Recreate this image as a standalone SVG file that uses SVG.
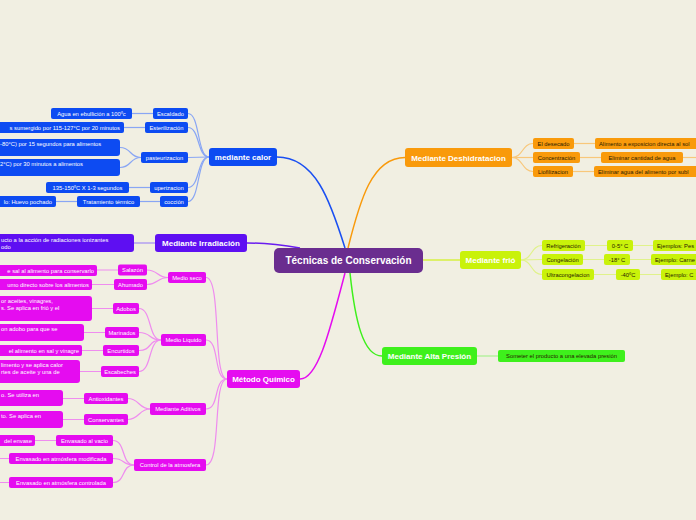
<svg xmlns="http://www.w3.org/2000/svg" width="696" height="520" viewBox="0 0 696 520">
<style>
text{font-family:"Liberation Sans",Arial,sans-serif;}
.s{font-size:5.8px;fill:#fff;text-anchor:middle;}
.sl{font-size:5.8px;fill:#fff;}
.se{font-size:5.8px;fill:#fff;text-anchor:end;}
.d{fill:#2a2000;}
.m{font-size:8px;font-weight:bold;text-anchor:middle;fill:#fff;}
.bl{fill:#0d4bf2;}
.ir{fill:#5e0ff2;}
.or{fill:#f99a0b;}
.ye{fill:#c9f20a;}
.gr{fill:#3ef01c;}
.mg{fill:#e50cf0;}
.cb{fill:none;stroke:#89a6f4;stroke-width:1.2;}
.co{fill:none;stroke:#f8c77a;stroke-width:1.2;}
.cy{fill:none;stroke:#e0f28a;stroke-width:1.2;}
.cg{fill:none;stroke:#a8f090;stroke-width:1.2;}
.cm{fill:none;stroke:#ef8cef;stroke-width:1.2;}
.ci{fill:none;stroke:#a38af5;stroke-width:1.2;}
</style>
<rect width="696" height="520" fill="#f1efe2"/>
<g id="connectors">
<path d="M277,157 C315,157 330,200 345,248" fill="none" stroke="#1a4ff2" stroke-width="1.5"/>
<path d="M348,248 C360,200 372,157.5 405,157.5" fill="none" stroke="#f99a0b" stroke-width="1.5"/>
<path d="M247,243 C270,243 288,246 300,248" fill="none" stroke="#6a1cf0" stroke-width="1.5"/>
<path d="M423,260 L460,260" fill="none" stroke="#d6f040" stroke-width="1.5"/>
<path d="M350,273 C355,320 363,356 382,356" fill="none" stroke="#3ef01c" stroke-width="1.5"/>
<path d="M345,273 C330,330 318,379 300,379" fill="none" stroke="#e50cf0" stroke-width="1.5"/>
<path class="cb" d="M188,113.5 C200,113.5 197,157 209,157"/>
<path class="cb" d="M188,127.5 C200,127.5 197,157 209,157"/>
<path class="cb" d="M188,157.5 L209,157"/>
<path class="cb" d="M188,187.5 C200,187.5 197,157 209,157"/>
<path class="cb" d="M188,201.5 C200,201.5 197,157 209,157"/>
<path class="cb" d="M132,113.5 L153,113.5"/>
<path class="cb" d="M124,127.5 L145,127.5"/>
<path class="cb" d="M120,147.5 C132,147.5 129,157.5 141,157.5"/>
<path class="cb" d="M120,167.5 C132,167.5 129,157.5 141,157.5"/>
<path class="cb" d="M129,187.5 L150,187.5"/>
<path class="cb" d="M56,201.5 L77,201.5"/>
<path class="cb" d="M140,201.5 L160,201.5"/>
<path class="ci" d="M134,243 L155,243"/>
<path class="co" d="M512,157.5 C523,157.5 522,143.5 533,143.5"/>
<path class="co" d="M512,157.5 L533,157.5"/>
<path class="co" d="M512,157.5 C523,157.5 522,171.5 533,171.5"/>
<path class="co" d="M574,143.5 L595,143.5"/>
<path class="co" d="M580,157.5 L601,157.5"/>
<path class="co" d="M683,157.5 L696,157.5"/>
<path class="co" d="M573,171.5 L594,171.5"/>
<path class="cy" d="M521,260 C532,260 531,245.5 542,245.5"/>
<path class="cy" d="M521,260 L542,259.5"/>
<path class="cy" d="M521,260 C532,260 531,274.5 542,274.5"/>
<path class="cy" d="M585,245.5 L607,245.5 M633,245.5 L653,245.5"/>
<path class="cy" d="M583,259.5 L604,259.5 M630,259.5 L651,259.5"/>
<path class="cy" d="M594,274.5 L616,274.5 M640,274.5 L661,274.5"/>
<path class="cg" d="M477,356 L498,356"/>
<path class="cm" d="M206,277.5 C222,277.5 212,379 227,379"/>
<path class="cm" d="M206,340 C220,340 213,379 227,379"/>
<path class="cm" d="M206,409 C220,409 213,379 227,379"/>
<path class="cm" d="M206,465 C222,465 212,379 227,379"/>
<path class="cm" d="M147,270 C158,270 157,277.5 168,277.5"/>
<path class="cm" d="M147,284.5 C158,284.5 157,277.5 168,277.5"/>
<path class="cm" d="M139,308.5 C152,308.5 148,340 161,340"/>
<path class="cm" d="M139,332.5 C152,332.5 148,340 161,340"/>
<path class="cm" d="M139,350.5 C152,350.5 148,340 161,340"/>
<path class="cm" d="M139,371.5 C152,371.5 148,340 161,340"/>
<path class="cm" d="M128,398.5 C139,398.5 139,409 150,409"/>
<path class="cm" d="M128,419.5 C139,419.5 139,409 150,409"/>
<path class="cm" d="M113,440.5 C126,440.5 121,465 134,465"/>
<path class="cm" d="M113,458.5 C126,458.5 121,465 134,465"/>
<path class="cm" d="M113,482.5 C126,482.5 121,465 134,465"/>
<path class="cm" d="M97,270 L118,270 M92,284.5 L114,284.5 M92,308.5 L113,308.5 M84,332.5 L105,332.5 M82,350.5 L103,350.5 M80,371.5 L101,371.5 M63,398.5 L84,398.5 M63,419.5 L84,419.5 M35,440.5 L56,440.5 M0,458.5 L9,458.5 M0,482.5 L9,482.5"/>
</g>
<g id="central"><rect x="274" y="248" width="149" height="25" rx="5" fill="#6a2d8f"/><text x="348.5" y="264" font-size="10" font-weight="bold" fill="#fff" text-anchor="middle">Técnicas de Conservación</text></g>
<g id="calor"><rect x="209" y="148" width="68" height="18" rx="3" class="bl"/><text x="243" y="160" class="m">mediante calor</text></g>
<g id="escaldado"><rect x="153" y="108" width="35" height="11" rx="2" class="bl"/><text x="170.5" y="115.5" class="s">Escaldado</text></g>
<g id="esterilizacion"><rect x="145" y="122" width="43" height="11" rx="2" class="bl"/><text x="166.5" y="129.5" class="s">Esterilización</text></g>
<g id="pasteurizacion"><rect x="141" y="152" width="47" height="11" rx="2" class="bl"/><text x="164.5" y="159.5" class="s">pasteurizacion</text></g>
<g id="uperizacion"><rect x="150" y="182" width="38" height="11" rx="2" class="bl"/><text x="169" y="189.5" class="s">uperizacion</text></g>
<g id="coccion"><rect x="160" y="196" width="28" height="11" rx="2" class="bl"/><text x="174" y="203.5" class="s">cocción</text></g>
<g id="agua"><rect x="51" y="108" width="81" height="11" rx="2" class="bl"/><text x="91.5" y="115.5" class="s">Agua en ebullición a 100ºc</text></g>
<g id="sumergido"><rect x="-5" y="122" width="129" height="11" rx="2" class="bl"/><text x="120" y="129.5" class="se">s sumergido por 115-127°C por 20 minutos</text></g>
<g id="past1"><rect x="-5" y="139" width="125" height="17" rx="3" class="bl"/><text x="0" y="146" class="sl">-80°C) por 15 segundos para alimentos</text></g>
<g id="past2"><rect x="-5" y="159" width="125" height="17" rx="3" class="bl"/><text x="0" y="166" class="sl">2°C) por 30 minutos a alimentos</text></g>
<g id="uht"><rect x="46" y="182" width="83" height="11" rx="2" class="bl"/><text x="87.5" y="189.5" class="s">135-150ºC X 1-3 segundos</text></g>
<g id="tratamiento"><rect x="77" y="196" width="63" height="11" rx="2" class="bl"/><text x="108.5" y="203.5" class="s">Tratamiento térmico</text></g>
<g id="huevo"><rect x="-5" y="196" width="61" height="11" rx="2" class="bl"/><text x="52" y="203.5" class="se">lo: Huevo pochado</text></g>
<g id="irradiacion"><rect x="155" y="234" width="92" height="18" rx="3" class="ir"/><text x="201" y="246" class="m">Mediante Irradiación</text></g>
<g id="irr-leaf"><rect x="-5" y="234" width="139" height="18" rx="3" class="ir"/><text x="1" y="241.5" class="sl">ucto a la acción de radiaciones ionizantes</text><text x="1" y="249" class="sl">odo</text></g>
<g id="deshidratacion"><rect x="405" y="148" width="107" height="19" rx="3" class="or"/><text x="458.5" y="160.5" class="m d">Mediante Deshidratacion</text></g>
<g id="desecado"><rect x="533" y="138" width="41" height="11" rx="2" class="or"/><text x="553.5" y="145.5" class="s d">El desecado</text></g>
<g id="concentracion"><rect x="533" y="152" width="47" height="11" rx="2" class="or"/><text x="556.5" y="159.5" class="s d">Concentración</text></g>
<g id="liofilizacion"><rect x="533" y="166" width="40" height="11" rx="2" class="or"/><text x="553" y="173.5" class="s d">Liofilizacion</text></g>
<g id="sol"><rect x="595" y="138" width="110" height="11" rx="2" class="or"/><text x="599" y="145.5" class="sl d">Alimento a exposicion directa al sol</text></g>
<g id="agua2"><rect x="601" y="152" width="82" height="11" rx="2" class="or"/><text x="642" y="159.5" class="s d">Eliminar cantidad de agua</text></g>
<g id="subl"><rect x="594" y="166" width="110" height="11" rx="2" class="or"/><text x="598" y="173.5" class="sl d">Eliminar agua del alimento por subl</text></g>
<g id="frio"><rect x="460" y="251" width="61" height="18" rx="3" class="ye"/><text x="490.5" y="263" class="m d">Mediante frió</text></g>
<g id="refrigeracion"><rect x="542" y="240" width="43" height="11" rx="2" class="ye"/><text x="563.5" y="247.5" class="s d">Refrigeración</text></g>
<g id="congelacion"><rect x="542" y="254" width="41" height="11" rx="2" class="ye"/><text x="562.5" y="261.5" class="s d">Congelación</text></g>
<g id="ultra"><rect x="542" y="269" width="52" height="11" rx="2" class="ye"/><text x="568" y="276.5" class="s d">Ultracongelacion</text></g>
<g id="t05"><rect x="607" y="240" width="26" height="11" rx="2" class="ye"/><text x="620" y="247.5" class="s d">0-5° C</text></g>
<g id="t18"><rect x="604" y="254" width="26" height="11" rx="2" class="ye"/><text x="617" y="261.5" class="s d">-18° C</text></g>
<g id="t40"><rect x="616" y="269" width="24" height="11" rx="2" class="ye"/><text x="628" y="276.5" class="s d">-40ºC</text></g>
<g id="ej1"><rect x="653" y="240" width="50" height="11" rx="2" class="ye"/><text x="657" y="247.5" class="sl d">Ejemplos: Pes</text></g>
<g id="ej2"><rect x="651" y="254" width="50" height="11" rx="2" class="ye"/><text x="655" y="261.5" class="sl d">Ejemplo: Carne</text></g>
<g id="ej3"><rect x="661" y="269" width="40" height="11" rx="2" class="ye"/><text x="665" y="276.5" class="sl d">Ejemplo: C</text></g>
<g id="presion"><rect x="382" y="347" width="95" height="18" rx="3" class="gr"/><text x="429.5" y="359" class="m">Mediante Alta Presión</text></g>
<g id="someter"><rect x="498" y="350" width="127" height="12" rx="2" class="gr"/><text x="561.5" y="358" class="s d">Someter el producto a una elevada presión</text></g>
<g id="quimico"><rect x="227" y="370" width="73" height="18" rx="3" class="mg"/><text x="263.5" y="382" class="m">Método Químico</text></g>
<g id="medioseco"><rect x="168" y="272" width="38" height="11" rx="2" class="mg"/><text x="187" y="279.5" class="s">Medio seco</text></g>
<g id="medioliquido"><rect x="161" y="334" width="45" height="12" rx="2" class="mg"/><text x="183.5" y="342" class="s">Medio Liquido</text></g>
<g id="aditivos"><rect x="150" y="403" width="56" height="12" rx="2" class="mg"/><text x="178" y="411" class="s">Mediante Aditivos</text></g>
<g id="control"><rect x="134" y="459" width="72" height="12" rx="2" class="mg"/><text x="170" y="467" class="s">Control de la atmosfera</text></g>
<g id="salazon"><rect x="118" y="264.5" width="29" height="11" rx="2" class="mg"/><text x="132.5" y="272" class="s">Salazón</text></g>
<g id="ahumado"><rect x="114" y="279" width="33" height="11" rx="2" class="mg"/><text x="130.5" y="286.5" class="s">Ahumado</text></g>
<g id="adobos"><rect x="113" y="303" width="26" height="11" rx="2" class="mg"/><text x="126" y="310.5" class="s">Adobos</text></g>
<g id="marinados"><rect x="105" y="327" width="34" height="11" rx="2" class="mg"/><text x="122" y="334.5" class="s">Marinados</text></g>
<g id="encurtidos"><rect x="103" y="345" width="36" height="11" rx="2" class="mg"/><text x="121" y="352.5" class="s">Encurtidos</text></g>
<g id="escabeches"><rect x="101" y="366" width="38" height="11" rx="2" class="mg"/><text x="120" y="373.5" class="s">Escabeches</text></g>
<g id="antioxidantes"><rect x="84" y="393" width="44" height="11" rx="2" class="mg"/><text x="106" y="400.5" class="s">Antioxidantes</text></g>
<g id="conservantes"><rect x="84" y="414" width="44" height="11" rx="2" class="mg"/><text x="106" y="421.5" class="s">Conservantes</text></g>
<g id="vacio"><rect x="56" y="435" width="57" height="11" rx="2" class="mg"/><text x="84.5" y="442.5" class="s">Envasado al vacio</text></g>
<g id="modificada"><rect x="9" y="453" width="104" height="11" rx="2" class="mg"/><text x="61" y="460.5" class="s">Envasado en atmósfera modificada</text></g>
<g id="controlada"><rect x="9" y="477" width="104" height="11" rx="2" class="mg"/><text x="61" y="484.5" class="s">Envasado en atmósfera controlada</text></g>
<g id="l-sal"><rect x="-5" y="265" width="102" height="11" rx="2" class="mg"/><text x="94" y="272.5" class="se">e sal al alimento para conservarlo</text></g>
<g id="l-humo"><rect x="-5" y="279" width="97" height="11" rx="2" class="mg"/><text x="89" y="286.5" class="se">umo directo sobre los alimentos</text></g>
<g id="l-adobos"><rect x="-5" y="296" width="97" height="25" rx="3" class="mg"/><text x="1" y="302.5" class="sl">or aceites, vinagres,</text><text x="1" y="310" class="sl">s. Se aplica en frió y el</text></g>
<g id="l-marinados"><rect x="-5" y="324" width="89" height="17" rx="3" class="mg"/><text x="1" y="331" class="sl">on adobo para que se</text></g>
<g id="l-encurtidos"><rect x="-5" y="345" width="87" height="11" rx="2" class="mg"/><text x="79" y="352.5" class="se">el alimento en sal y vinagre</text></g>
<g id="l-escabeches"><rect x="-5" y="360" width="85" height="23" rx="3" class="mg"/><text x="1" y="366.5" class="sl">limento y se aplica calor</text><text x="1" y="374" class="sl">rtes de aceite y una de</text></g>
<g id="l-antiox"><rect x="-5" y="390" width="68" height="16" rx="3" class="mg"/><text x="1" y="397" class="sl">o. Se utiliza en</text></g>
<g id="l-conserv"><rect x="-5" y="411" width="68" height="17" rx="3" class="mg"/><text x="1" y="418" class="sl">to. Se aplica en</text></g>
<g id="l-vacio"><rect x="-5" y="435" width="40" height="11" rx="2" class="mg"/><text x="32" y="442.5" class="se">del envase</text></g>
</svg>
